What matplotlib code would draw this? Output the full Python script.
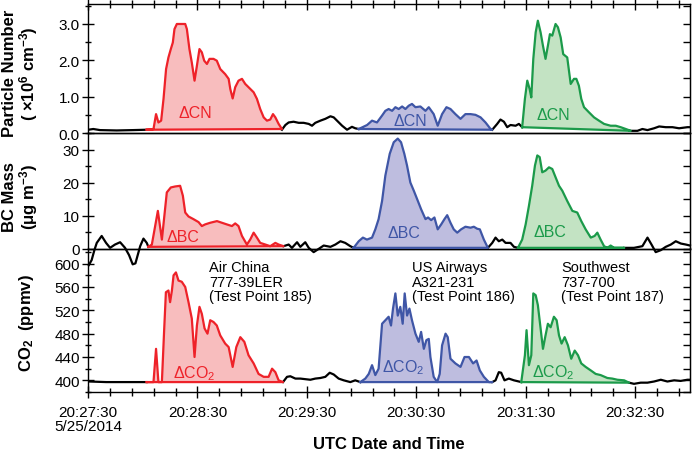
import matplotlib
matplotlib.use("Agg")
import matplotlib.pyplot as plt
import numpy as np
from matplotlib.ticker import MultipleLocator

plt.rcParams['font.family'] = ['Liberation Sans', 'DejaVu Sans']
plt.rcParams['mathtext.default'] = 'regular'

nan = np.nan

# time axis: seconds after 20:27:30 UTC, 5/25/2014
x_ticks = [0, 60, 120, 180, 240, 300]
x_ticklabels = ["20:27:30\n5/25/2014", "20:28:30", "20:29:30", "20:30:30", "20:31:30", "20:32:30"]

# ---- particle number (x10^6 cm^-3) ----
cn_bg_t = [0.2, 2.9, 6.6, 15.7, 24.9, 32.2, nan,
           106.3, 108.2, 110.0, 112.7, 115.5, 118.2, 121.0, 122.8, 124.6, 127.4, 130.1, 132.9, 134.7,
           136.5, 139.3, 142.0, 144.7, 146.5, 148.4, nan,
           221.6, 224.3, 226.1, 228.0, 229.8, 231.6, 234.4, 236.2, 238.0, nan,
           297.5, 301.2, 303.9, 306.7, 310.3, 313.1, 316.7, 320.4, 324.0, 328.6, 330.0]
cn_bg = [0.09, 0.11, 0.08, 0.07, 0.08, 0.09, nan,
         0.09, 0.22, 0.29, 0.31, 0.28, 0.28, 0.25, 0.20, 0.28, 0.34, 0.39, 0.46, 0.43,
         0.34, 0.20, 0.09, 0.17, 0.13, 0.11, nan,
         0.09, 0.25, 0.37, 0.31, 0.16, 0.22, 0.20, 0.25, 0.16, nan,
         0.06, 0.06, 0.11, 0.08, 0.13, 0.18, 0.16, 0.16, 0.13, 0.16, 0.16]

cn_red_t = [32.2, 35.9, 37.3, 38.6, 40.1, 41.4, 42.8, 44.1, 45.4, 46.5, 47.4, 48.7, 51.4, 53.3,
            54.2, 55.6, 56.9, 58.4, 59.7, 61.1, 62.4, 63.7, 65.2, 66.6, 68.8, 70.6, 72.5, 75.2,
            77.1, 78.0, 79.3, 80.7, 82.5, 84.4, 86.2, 88.0, 90.8, 92.6, 94.4, 96.3, 98.1, 99.9,
            101.4, 102.7, 104.5, 106.3]
cn_red = [0.09, 0.11, 0.52, 0.29, 0.34, 0.94, 1.76, 2.08, 2.31, 2.49, 2.86, 3.0, 3.0, 3.0,
          2.86, 2.31, 1.94, 1.44, 1.85, 2.31, 2.22, 1.99, 1.90, 2.04, 2.04, 1.99, 1.76, 1.62,
          1.49, 1.21, 0.95, 1.26, 1.44, 1.49, 1.35, 1.26, 1.12, 0.94, 0.66, 0.43, 0.34, 0.37,
          0.52, 0.43, 0.25, 0.11]

cn_blue_t = [148.4, 153.0, 155.7, 158.4, 161.2, 163.0, 164.8, 166.7, 168.5, 170.3, 172.2, 174.0,
             175.8, 177.6, 179.5, 182.2, 185.0, 186.8, 189.5, 191.7, 194.1, 196.5, 198.7, 201.4,
             204.2, 206.9, 209.7, 212.4, 215.2, 217.9, 220.7, 221.6]
cn_blue = [0.11, 0.22, 0.34, 0.29, 0.48, 0.61, 0.66, 0.61, 0.71, 0.66, 0.73, 0.66,
           0.75, 0.80, 0.71, 0.73, 0.61, 0.71, 0.52, 0.20, 0.52, 0.71, 0.66, 0.52,
           0.39, 0.52, 0.52, 0.50, 0.43, 0.29, 0.11, 0.09]

cn_green_t = [238.0, 239.5, 240.8, 242.1, 243.0, 244.1, 245.4, 246.6, 248.1, 249.4, 250.8, 252.1,
              253.2, 254.5, 256.3, 257.6, 259.1, 260.5, 262.7, 264.6, 266.4, 267.7, 269.1, 270.4,
              271.9, 274.6, 277.4, 280.1, 282.9, 286.5, 289.3, 292.0, 294.8, 297.5]
cn_green = [0.16, 0.94, 1.44, 1.21, 0.98, 2.04, 2.77, 3.09, 2.77, 2.40, 2.04, 2.40,
            2.72, 2.68, 3.00, 2.91, 2.63, 2.17, 2.08, 1.35, 1.49, 1.49, 1.30, 0.94,
            0.71, 0.57, 0.43, 0.34, 0.25, 0.20, 0.20, 0.16, 0.11, 0.06]

# ---- BC mass (ug m^-3) ----
bc_bg_t = [0.5, 2.0, 3.5, 4.8, 7.5, 9.9, 12.1, 14.8, 17.6, 20.3, 22.5, 24.5, 26.0, 27.5, 28.6,
           30.4, 32.2, 33.1, nan,
           107.2, 110.0, 111.8, 114.6, 116.4, 119.1, 121.0, 123.7, 126.5, 129.2, 132.9, 135.6,
           138.4, 141.0, 143.8, 145.6, nan,
           219.2, 221.6, 223.4, 225.2, 227.1, 228.9, 231.6, 233.5, 235.7, nan,
           293.9, 299.3, 303.9, 306.7, 308.9, 311.2, 314.0, 316.7, 319.5, 322.2, 325.0, 327.7, 330.0]
bc_bg = [-5.0, -3.5, -0.5, 1.7, 3.8, 1.7, 0.2, 1.2, 1.9, 0.2, -2.0, -4.8, -4.5, -1.5, 0.7,
         3.0, 1.7, 0.5, nan,
         0.7, 1.2, 0.2, 1.9, 0.5, 1.9, 0.2, -1.1, -0.1, 0.9, 0.5, 1.2,
         2.2, 1.7, 0.7, 0.2, nan,
         0.2, 1.7, 3.3, 2.2, 2.7, 1.7, 1.7, 0.5, 0.2, nan,
         0.2, 0.2, 0.7, 3.3, 1.2, -1.1, -0.5, 0.5, 1.2, 2.2, 1.5, 1.2, 0.9]

bc_red_t = [33.1, 35.0, 38.3, 40.5, 43.2, 45.4, 47.8, 50.5, 52.0, 53.3, 55.1, 57.8, 60.6, 62.4,
            64.2, 67.0, 70.7, 73.4, 76.1, 78.9, 80.7, 82.5, 84.4, 87.1, 88.9, 90.8, 92.6, 94.4,
            97.2, 99.9, 102.7, 104.5, 107.2]
bc_red = [0.5, 1.2, 11.4, 2.7, 17.0, 18.5, 18.8, 19.0, 16.0, 10.9, 9.7, 8.9, 8.0, 6.8,
          7.3, 7.8, 8.3, 7.8, 7.3, 6.8, 7.6, 6.8, 3.8, 1.2, 2.7, 4.8, 3.3, 1.7,
          1.2, 0.7, 1.7, 1.2, 0.7]

bc_blue_t = [145.6, 148.4, 150.7, 152.9, 155.7, 157.5, 159.3, 161.2, 163.0, 165.4, 167.6, 169.8,
             171.6, 173.4, 174.9, 176.7, 178.6, 180.4, 182.6, 185.0, 186.4, 188.1, 189.9, 191.7,
             193.6, 195.4, 196.9, 198.7, 200.5, 202.4, 204.5, 206.9, 209.7, 211.5, 213.3, 214.8,
             217.0, 219.2]
bc_blue = [0.2, 2.2, 3.3, 2.7, 3.3, 5.8, 8.9, 14.4, 22.1, 28.7, 32.2, 33.3,
           32.2, 28.7, 25.1, 20.0, 17.5, 15.0, 11.9, 8.9, 9.4, 8.6, 9.4, 5.8,
           7.3, 8.9, 10.1, 7.8, 5.8, 4.8, 5.8, 6.6, 6.3, 6.6, 6.0, 5.8,
           2.7, 0.2]

bc_green_t = [235.7, 238.0, 239.9, 241.7, 243.5, 245.0, 246.3, 247.6, 249.0, 250.8, 252.7, 254.5,
              256.3, 258.2, 260.0, 262.7, 265.5, 268.2, 270.4, 272.8, 275.6, 277.7, 279.2, 281.0,
              282.9, 284.7, 286.5, 288.4, 293.9]
bc_green = [0.2, 2.7, 7.3, 12.9, 19.0, 25.1, 28.2, 27.7, 23.1, 23.6, 24.6, 24.1,
            21.6, 19.0, 17.5, 14.4, 11.4, 10.9, 8.3, 5.8, 3.3, 3.8, 4.8, 2.7,
            0.7, 0.2, 0.9, 0.2, 0.2]

# ---- CO2 (ppmv) ----
co2_bg_t = [0.7, 10.0, 20.0, 32.2, nan,
            106.9, 109.1, 110.9, 113.7, 116.4, 119.1, 121.9, 124.6, 127.4, 130.1, 132.5, 134.7,
            137.4, 140.2, 143.8, 146.5, 149.3, nan,
            221.6, 223.4, 225.2, 226.5, 228.3, 230.7, 233.5, 236.2, 237.5, nan,
            296.6, 299.3, 303.0, 306.7, 310.3, 314.0, 317.6, 321.3, 324.9, 328.6, 330.0]
co2_bg = [398, 397, 397, 397, nan,
          397, 406, 407, 403, 403, 402, 401, 403, 404, 406, 413, 410,
          403, 400, 397, 400, 397, nan,
          397, 400, 414, 413, 400, 403, 400, 398, 397, nan,
          396, 394, 396, 396, 398, 401, 398, 400, 399, 401, 401]

co2_red_t = [32.2, 35.9, 37.3, 38.6, 40.5, 41.7, 42.7, 44.1, 45.0, 46.0, 46.9, 48.2, 49.6, 51.4,
             53.3, 55.1, 56.9, 58.4, 59.7, 61.1, 62.4, 63.9, 65.5, 67.0, 68.8, 70.6, 72.5, 75.2,
             77.1, 79.3, 81.3, 83.5, 85.7, 88.0, 90.8, 93.5, 96.3, 99.0, 100.9, 102.7, 104.5, 106.9]
co2_red = [397, 397, 454, 397, 397, 483, 551, 554, 534, 554, 580, 585, 571, 569,
           560, 534, 506, 440, 494, 526, 514, 489, 480, 503, 500, 494, 477, 463,
           457, 423, 457, 474, 466, 443, 429, 411, 406, 406, 420, 414, 400, 397]

co2_blue_t = [149.3, 152.0, 153.9, 155.7, 157.5, 159.3, 161.2, 163.0, 164.8, 166.1, 167.2, 168.5,
              169.8, 171.2, 172.5, 173.6, 174.9, 176.2, 177.6, 179.5, 181.3, 182.6, 184.1, 185.5,
              186.8, 187.7, 189.5, 191.4, 192.8, 194.1, 196.0, 197.2, 198.7, 201.4, 204.2, 206.4,
              208.8, 211.1, 213.0, 214.8, 217.0, 219.7, 221.6]
co2_blue = [397, 403, 411, 426, 409, 420, 497, 503, 509, 494, 523, 549,
            511, 526, 497, 549, 511, 523, 503, 480, 466, 483, 454, 469,
            471, 440, 406, 397, 411, 460, 480, 474, 437, 429, 423, 440,
            440, 429, 434, 417, 406, 397, 397]

co2_green_t = [237.5, 239.5, 240.4, 241.7, 243.0, 244.1, 245.4, 246.6, 248.1, 249.4, 250.8, 252.1,
               253.6, 255.4, 256.9, 258.2, 259.6, 261.3, 263.1, 264.9, 266.8, 268.6, 270.4, 272.8,
               275.6, 278.3, 281.0, 284.7, 287.4, 290.2, 293.9, 296.6]
co2_green = [397, 443, 486, 426, 443, 549, 546, 529, 489, 454, 477, 497,
             491, 509, 503, 477, 463, 474, 460, 437, 451, 443, 429, 423,
             417, 411, 409, 404, 403, 401, 400, 396]

aircraft = ["Air China\n777-39LER\n(Test Point 185)",
            "US Airways\nA321-231\n(Test Point 186)",
            "Southwest\n737-700\n(Test Point 187)"]

RED = ("#ee2229", "#f8bdbe")
BLUE = ("#3f56a6", "#bebddf")
GREEN = ("#1b9a4a", "#c3e3c3")


def draw_plume(ax, t, v, colors, label, lx, ly):
    line_c, fill_c = colors
    ax.fill(t, v, color=fill_c, lw=0, zorder=2)
    ax.plot(list(t) + [t[0]], list(v) + [v[0]], color=line_c, lw=1.6, zorder=3,
            solid_joinstyle='round')
    ax.text(lx, ly, label, color=line_c, fontsize=11.5, ha='center', va='center', zorder=4)


def style(ax, ymaj, ymin, top=False, bottom=False):
    ax.set_xlim(0, 330)
    ax.xaxis.set_major_locator(plt.FixedLocator(x_ticks))
    ax.xaxis.set_minor_locator(MultipleLocator(12))
    ax.yaxis.set_major_locator(MultipleLocator(ymaj))
    ax.yaxis.set_minor_locator(MultipleLocator(ymin))
    ax.tick_params(axis='y', which='both', left=True, right=False, direction='inout',
                   labelsize=11, pad=2)
    ax.tick_params(axis='y', which='major', length=8, width=1)
    ax.tick_params(axis='y', which='minor', length=5, width=1)
    ax.tick_params(axis='x', which='both', top=top, bottom=bottom, direction='inout',
                   labeltop=False, labelbottom=bottom, labelsize=11, width=1)
    ax.tick_params(axis='x', which='major', length=9)
    ax.tick_params(axis='x', which='minor', length=6)
    for s in ax.spines.values():
        s.set_linewidth(1.0)
    # right axis ticks pointing inward
    ax2 = ax.secondary_yaxis('right')
    ax2.yaxis.set_major_locator(MultipleLocator(ymin))
    ax2.tick_params(axis='y', which='both', direction='in', length=5, width=1, labelright=False)
    ax2.yaxis.set_minor_locator(plt.NullLocator())


fig = plt.figure(figsize=(6.97, 4.60), dpi=100)
left, width = 88 / 697, 602 / 697
ax_cn = fig.add_axes([left, 1 - 134 / 460, width, 129 / 460])
ax_bc = fig.add_axes([left, 1 - 249.5 / 460, width, 115.5 / 460])
ax_co2 = fig.add_axes([left, 1 - 393 / 460, width, 143.5 / 460])

# particle number
ax_cn.plot(cn_bg_t, cn_bg, color='black', lw=1.6, zorder=3)
draw_plume(ax_cn, cn_red_t, cn_red, RED, "ΔCN", 58.7, 0.57)
draw_plume(ax_cn, cn_blue_t, cn_blue, BLUE, "ΔCN", 176.5, 0.34)
draw_plume(ax_cn, cn_green_t, cn_green, GREEN, "ΔCN", 255, 0.52)
ax_cn.set_ylim(0, 3.55)
style(ax_cn, 1.0, 0.5, top=True)
ax_cn.yaxis.set_major_formatter(plt.FormatStrFormatter('%.1f'))
ax_cn.set_ylabel("Particle Number\n( ×10$^{6}$ cm$^{-3}$)", fontsize=12, fontweight='bold',
                 linespacing=1.0)
ax_cn.yaxis.set_label_coords(-0.08, 0.47)

# BC mass
ax_bc.plot(bc_bg_t, bc_bg, color='black', lw=1.6, zorder=3, clip_on=False)
draw_plume(ax_bc, bc_red_t, bc_red, RED, "ΔBC", 52, 3.5)
draw_plume(ax_bc, bc_blue_t, bc_blue, BLUE, "ΔBC", 173, 4.8)
draw_plume(ax_bc, bc_green_t, bc_green, GREEN, "ΔBC", 253, 5.0)
ax_bc.set_ylim(0, 35)
style(ax_bc, 10, 5)
ax_bc.set_ylabel("BC Mass\n(μg m$^{-3}$)", fontsize=12, fontweight='bold', linespacing=1.0)
ax_bc.yaxis.set_label_coords(-0.08, 0.45)
ax_bc.set_zorder(3)
ax_bc.patch.set_visible(False)

# CO2
ax_co2.plot(co2_bg_t, co2_bg, color='black', lw=1.6, zorder=3)
draw_plume(ax_co2, co2_red_t, co2_red, RED, "ΔCO$_{2}$", 58, 413)
draw_plume(ax_co2, co2_blue_t, co2_blue, BLUE, "ΔCO$_{2}$", 173, 424)
draw_plume(ax_co2, co2_green_t, co2_green, GREEN, "ΔCO$_{2}$", 255, 415)
ax_co2.set_ylim(380, 626)
style(ax_co2, 40, 20, bottom=True)
ax_co2.set_xticklabels(x_ticklabels, linespacing=1.0)
ax_co2.set_ylabel("CO$_{2}$  (ppmv)", fontsize=12, fontweight='bold')
ax_co2.yaxis.set_label_coords(-0.086, 0.49)
ax_co2.set_xlabel("UTC Date and Time", fontsize=12, fontweight='bold')
ax_co2.xaxis.set_label_coords(0.5, -0.31)
ax_co2.tick_params(axis='x', pad=5)

for t0, txt in zip([66.5, 177.5, 259.5], aircraft):
    ax_co2.text(t0, 606, txt, fontsize=10.5, ha='left', va='top', linespacing=1.05, zorder=5)

fig.savefig("out.png", dpi=100)
